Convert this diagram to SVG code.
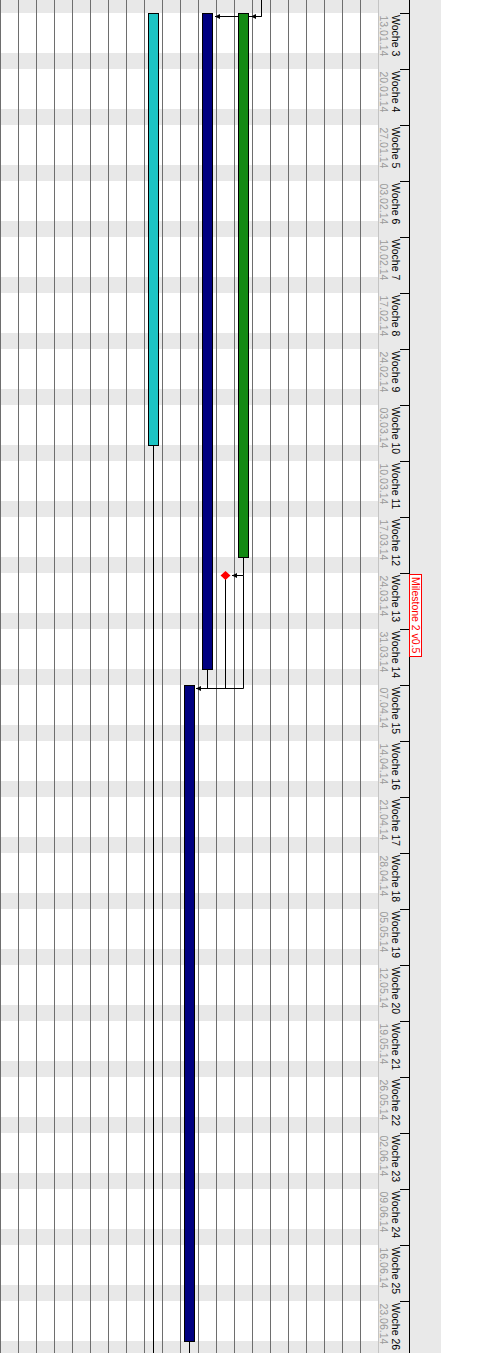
<svg xmlns="http://www.w3.org/2000/svg" width="488" height="1353" viewBox="0 0 488 1353">
<style>
.stripe{fill:#e8e8e8}
.grid{stroke:#6e6e6e;stroke-width:1}
.tick{stroke:#000;stroke-width:1}
.bar{stroke:#000;stroke-width:1}
.conn{stroke:#000;stroke-width:1;fill:none}
.wk{font-family:"Liberation Sans",Arial,sans-serif;font-size:10.5px;fill:#000}
.dt{font-family:"Liberation Sans",Arial,sans-serif;font-size:10.5px;fill:#9a9a9a}
.ms{font-family:"Liberation Sans",Arial,sans-serif;font-size:10.5px;fill:#ff0000}
</style>
<defs>
<marker id="arr" markerUnits="userSpaceOnUse" markerWidth="6" markerHeight="6" refX="5" refY="3" orient="auto">
<path d="M0,0.5 L5,3 L0,5.5 z" fill="#000"/>
</marker>
</defs>
<rect x="0" y="0" width="488" height="1353" fill="#fff"/>
<g id="weekends">
<rect class="stripe" x="0" y="-3" width="379" height="16"/>
<rect class="stripe" x="0" y="53" width="379" height="16"/>
<rect class="stripe" x="0" y="109" width="379" height="16"/>
<rect class="stripe" x="0" y="165" width="379" height="16"/>
<rect class="stripe" x="0" y="221" width="379" height="16"/>
<rect class="stripe" x="0" y="277" width="379" height="16"/>
<rect class="stripe" x="0" y="333" width="379" height="16"/>
<rect class="stripe" x="0" y="389" width="379" height="16"/>
<rect class="stripe" x="0" y="445" width="379" height="16"/>
<rect class="stripe" x="0" y="501" width="379" height="16"/>
<rect class="stripe" x="0" y="557" width="379" height="16"/>
<rect class="stripe" x="0" y="613" width="379" height="16"/>
<rect class="stripe" x="0" y="669" width="379" height="16"/>
<rect class="stripe" x="0" y="725" width="379" height="16"/>
<rect class="stripe" x="0" y="781" width="379" height="16"/>
<rect class="stripe" x="0" y="837" width="379" height="16"/>
<rect class="stripe" x="0" y="893" width="379" height="16"/>
<rect class="stripe" x="0" y="949" width="379" height="16"/>
<rect class="stripe" x="0" y="1005" width="379" height="16"/>
<rect class="stripe" x="0" y="1061" width="379" height="16"/>
<rect class="stripe" x="0" y="1117" width="379" height="16"/>
<rect class="stripe" x="0" y="1173" width="379" height="16"/>
<rect class="stripe" x="0" y="1229" width="379" height="16"/>
<rect class="stripe" x="0" y="1285" width="379" height="16"/>
<rect class="stripe" x="0" y="1341" width="379" height="16"/>
</g>
<g id="header-bg">
<rect x="379" y="0" width="62" height="1353" fill="#e9e9e9"/>
<line x1="378.5" y1="0" x2="378.5" y2="1353" stroke="#c4c4c4"/>
</g>
<g id="grid">
<line class="grid" x1="0.5" y1="0" x2="0.5" y2="1353"/>
<line class="grid" x1="18.5" y1="0" x2="18.5" y2="1353"/>
<line class="grid" x1="36.5" y1="0" x2="36.5" y2="1353"/>
<line class="grid" x1="54.5" y1="0" x2="54.5" y2="1353"/>
<line class="grid" x1="72.5" y1="0" x2="72.5" y2="1353"/>
<line class="grid" x1="90.5" y1="0" x2="90.5" y2="1353"/>
<line class="grid" x1="108.5" y1="0" x2="108.5" y2="1353"/>
<line class="grid" x1="126.5" y1="0" x2="126.5" y2="1353"/>
<line class="grid" x1="144.5" y1="0" x2="144.5" y2="1353"/>
<line class="grid" x1="162.5" y1="0" x2="162.5" y2="1353"/>
<line class="grid" x1="180.5" y1="0" x2="180.5" y2="1353"/>
<line class="grid" x1="198.5" y1="0" x2="198.5" y2="1353"/>
<line class="grid" x1="216.5" y1="0" x2="216.5" y2="1353"/>
<line class="grid" x1="234.5" y1="0" x2="234.5" y2="1353"/>
<line class="grid" x1="252.5" y1="0" x2="252.5" y2="1353"/>
<line class="grid" x1="270.5" y1="0" x2="270.5" y2="1353"/>
<line class="grid" x1="288.5" y1="0" x2="288.5" y2="1353"/>
<line class="grid" x1="306.5" y1="0" x2="306.5" y2="1353"/>
<line class="grid" x1="324.5" y1="0" x2="324.5" y2="1353"/>
<line class="grid" x1="342.5" y1="0" x2="342.5" y2="1353"/>
<line class="grid" x1="360.5" y1="0" x2="360.5" y2="1353"/>
</g>
<g id="timescale">
<line class="tick" x1="409.5" y1="0" x2="409.5" y2="1353"/>
<path class="tick" fill="none" d="M400,13.5H409.5M400,69.5H409.5M400,125.5H409.5M400,181.5H409.5M400,237.5H409.5M400,293.5H409.5M400,349.5H409.5M400,405.5H409.5M400,461.5H409.5M400,517.5H409.5M400,573.5H409.5M400,629.5H409.5M400,685.5H409.5M400,741.5H409.5M400,797.5H409.5M400,853.5H409.5M400,909.5H409.5M400,965.5H409.5M400,1021.5H409.5M400,1077.5H409.5M400,1133.5H409.5M400,1189.5H409.5M400,1245.5H409.5M400,1301.5H409.5"/>
<text class="wk" transform="translate(392,15) rotate(90)">Woche 3</text>
<text class="wk" transform="translate(392,71) rotate(90)">Woche 4</text>
<text class="wk" transform="translate(392,127) rotate(90)">Woche 5</text>
<text class="wk" transform="translate(392,183) rotate(90)">Woche 6</text>
<text class="wk" transform="translate(392,239) rotate(90)">Woche 7</text>
<text class="wk" transform="translate(392,295) rotate(90)">Woche 8</text>
<text class="wk" transform="translate(392,351) rotate(90)">Woche 9</text>
<text class="wk" transform="translate(392,407) rotate(90)">Woche 10</text>
<text class="wk" transform="translate(392,463) rotate(90)">Woche 11</text>
<text class="wk" transform="translate(392,519) rotate(90)">Woche 12</text>
<text class="wk" transform="translate(392,575) rotate(90)">Woche 13</text>
<text class="wk" transform="translate(392,631) rotate(90)">Woche 14</text>
<text class="wk" transform="translate(392,687) rotate(90)">Woche 15</text>
<text class="wk" transform="translate(392,743) rotate(90)">Woche 16</text>
<text class="wk" transform="translate(392,799) rotate(90)">Woche 17</text>
<text class="wk" transform="translate(392,855) rotate(90)">Woche 18</text>
<text class="wk" transform="translate(392,911) rotate(90)">Woche 19</text>
<text class="wk" transform="translate(392,967) rotate(90)">Woche 20</text>
<text class="wk" transform="translate(392,1023) rotate(90)">Woche 21</text>
<text class="wk" transform="translate(392,1079) rotate(90)">Woche 22</text>
<text class="wk" transform="translate(392,1135) rotate(90)">Woche 23</text>
<text class="wk" transform="translate(392,1191) rotate(90)">Woche 24</text>
<text class="wk" transform="translate(392,1247) rotate(90)">Woche 25</text>
<text class="wk" transform="translate(392,1303) rotate(90)">Woche 26</text>
<text class="dt" transform="translate(380,15.5) rotate(90)">13.01.14</text>
<text class="dt" transform="translate(380,71.5) rotate(90)">20.01.14</text>
<text class="dt" transform="translate(380,127.5) rotate(90)">27.01.14</text>
<text class="dt" transform="translate(380,183.5) rotate(90)">03.02.14</text>
<text class="dt" transform="translate(380,239.5) rotate(90)">10.02.14</text>
<text class="dt" transform="translate(380,295.5) rotate(90)">17.02.14</text>
<text class="dt" transform="translate(380,351.5) rotate(90)">24.02.14</text>
<text class="dt" transform="translate(380,407.5) rotate(90)">03.03.14</text>
<text class="dt" transform="translate(380,463.5) rotate(90)">10.03.14</text>
<text class="dt" transform="translate(380,519.5) rotate(90)">17.03.14</text>
<text class="dt" transform="translate(380,575.5) rotate(90)">24.03.14</text>
<text class="dt" transform="translate(380,631.5) rotate(90)">31.03.14</text>
<text class="dt" transform="translate(380,687.5) rotate(90)">07.04.14</text>
<text class="dt" transform="translate(380,743.5) rotate(90)">14.04.14</text>
<text class="dt" transform="translate(380,799.5) rotate(90)">21.04.14</text>
<text class="dt" transform="translate(380,855.5) rotate(90)">28.04.14</text>
<text class="dt" transform="translate(380,911.5) rotate(90)">05.05.14</text>
<text class="dt" transform="translate(380,967.5) rotate(90)">12.05.14</text>
<text class="dt" transform="translate(380,1023.5) rotate(90)">19.05.14</text>
<text class="dt" transform="translate(380,1079.5) rotate(90)">26.05.14</text>
<text class="dt" transform="translate(380,1135.5) rotate(90)">02.06.14</text>
<text class="dt" transform="translate(380,1191.5) rotate(90)">09.06.14</text>
<text class="dt" transform="translate(380,1247.5) rotate(90)">16.06.14</text>
<text class="dt" transform="translate(380,1303.5) rotate(90)">23.06.14</text>
</g>
<g id="connectors">
<path class="conn" d="M261.5,0 V16.5 H215" marker-end="url(#arr)"/>
<path class="conn" d="M261.5,16.5 H251" marker-end="url(#arr)"/>
<path class="conn" d="M153.5,445.5 V1353"/>
<path class="conn" d="M189.5,1341.5 V1353"/>
<path class="conn" d="M243.5,557.5 V575.5 H232" marker-end="url(#arr)"/>
<path class="conn" d="M243.5,575.5 V688.5 H196" marker-end="url(#arr)"/>
<path class="conn" d="M225.5,579 V688.5"/>
<path class="conn" d="M207.5,669.5 V688.5"/>
</g>
<g id="task-cyan">
<rect class="bar" x="148.5" y="13.5" width="10" height="432" fill="#1cc4c4"/>
</g>
<g id="task-navy-1">
<rect class="bar" x="202.5" y="13.5" width="10" height="656" fill="#000080"/>
</g>
<g id="task-green">
<rect class="bar" x="238.5" y="13.5" width="10" height="544" fill="#138a13"/>
</g>
<g id="task-navy-2">
<rect class="bar" x="184.5" y="685.5" width="10" height="656" fill="#000080"/>
</g>
<g id="milestone">
<polygon points="225.5,571 230.5,575.5 225.5,580 220.5,575.5" fill="#ff0000"/>
</g>
<g id="milestone-label">
<rect x="409.5" y="574.5" width="12" height="82" fill="#fff" stroke="#ff0000"/>
<text class="ms" transform="translate(412,577) rotate(90)">Milestone 2 v0.5</text>
</g>
</svg>
